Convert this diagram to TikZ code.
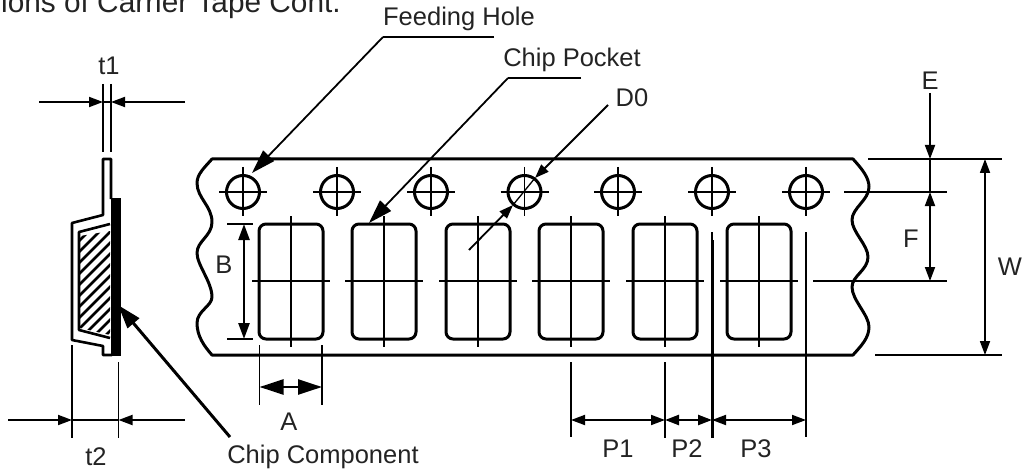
\documentclass[tikz,border=0pt]{standalone}
\usepackage{fontspec}
\setmainfont{Liberation Sans}
\usetikzlibrary{arrows.meta, calc}
\definecolor{inkdark}{RGB}{35, 35, 35}
\tikzstyle{dimlabel} = [inner sep=0pt, text=inkdark, font=\fontsize{25.5}{28}\selectfont]
\tikzstyle{outline} = [line width=3pt, black, line join=round]
\tikzstyle{thin line} = [line width=1.3pt, black]
\tikzstyle{extline} = [line width=1.8pt, black]
\tikzstyle{hole} = [circle, draw, line width=3pt, minimum size=33pt, inner sep=0pt]
\tikzstyle{pocket} = [rectangle, rounded corners=7pt, draw, line width=3pt, minimum width=64pt, minimum height=115pt, inner sep=0pt]
\tikzstyle{dimarrow} = [line width=1.8pt, -{Stealth[length=14pt, width=10pt, inset=0pt]}]
\tikzstyle{dimboth} = [line width=1.8pt, {Stealth[length=14pt, width=10pt, inset=0pt]}-{Stealth[length=14pt, width=10pt, inset=0pt]}]
\tikzstyle{bigarrow} = [line width=2.5pt, -{Stealth[length=24pt, width=15pt, inset=0pt]}]

\begin{document}
\begin{tikzpicture}[x=1pt, y=-1pt]
    \useasboundingbox (0,0) rectangle (1023,476);

    % Title and labels
    \node[dimlabel, anchor=base west, font=\fontsize{29.8}{32}\selectfont] (title) at (1, 13) {ions of Carrier Tape Cont.};
    \node[dimlabel] (feedlabel) at (459, 19) {Feeding Hole};
    \node[dimlabel] (pocketlabel) at (572, 60) {Chip Pocket};
    \node[dimlabel] (d0label) at (632, 98) {D0};
    \node[dimlabel] (chiplabel) at (323, 457) {Chip Component};
    \node[dimlabel] (t1label) at (109, 66) {t1};
    \node[dimlabel] (t2label) at (96, 457) {t2};
    \node[dimlabel] (blabel) at (224, 265) {B};
    \node[dimlabel] (alabel) at (289, 422) {A};
    \node[dimlabel] (p1label) at (618, 449) {P1};
    \node[dimlabel] (p2label) at (687, 449) {P2};
    \node[dimlabel] (p3label) at (756, 449) {P3};
    \node[dimlabel] (elabel) at (930, 81) {E};
    \node[dimlabel] (flabel) at (911, 239) {F};
    \node[dimlabel] (wlabel) at (1010, 267) {W};

    % Tape edge
    \draw[outline] (212,159) -- (853,159)
        .. controls (863,170) and (869,178) .. (869,187)
        .. controls (869,200) and (852,208) .. (852,220)
        .. controls (852,232) and (868,245) .. (868,257)
        .. controls (868,270) and (852,276) .. (852,287)
        .. controls (852,300) and (869,315) .. (869,327)
        .. controls (869,338) and (861,346) .. (853,355)
        -- (212,355)
        .. controls (204,346) and (197,336) .. (197,323)
        .. controls (197,311) and (212,306) .. (212,297)
        .. controls (212,282) and (197,265) .. (197,253)
        .. controls (197,241) and (212,236) .. (212,222)
        .. controls (212,206) and (197,198) .. (197,183)
        .. controls (197,174) and (205,167) .. (212,159) -- cycle;

    % Holes and pockets
    \foreach \i/\hx in {1/243, 2/337, 3/431, 4/524.5, 5/618, 6/712, 7/806} {
        \node[hole] (h\i) at (\hx, 192) {};
        \draw[thin line] (\hx-24, 192) -- (\hx+24, 192) (\hx, 167) -- (\hx, 216);
    }
    \foreach \i/\px in {1/291, 2/384, 3/478, 4/571, 5/665, 6/759} {
        \node[pocket] (c\i) at (\px, 281.5) {};
        \draw[thin line] (\px-39, 281) -- (\px+39, 281) (\px, 216) -- (\px, 347);
    }

    % Leaders
    \coordinate (feedknee) at (383, 37);
    \coordinate (feedend) at (494, 37);
    \coordinate (feedtip) at (252, 173);
    \draw[thin line] (feedend) -- (feedknee);
    \draw[bigarrow, line width=1.8pt] (feedknee) -- (feedtip);
    \coordinate (pocketknee) at (508, 78);
    \coordinate (pocketend) at (581, 78);
    \coordinate (pockettip) at (369, 223);
    \draw[thin line] (pocketend) -- (pocketknee);
    \draw[bigarrow, line width=1.8pt] (pocketknee) -- (pockettip);
    \coordinate (d0start) at (608, 105);
    \coordinate (d0tip) at (535, 178);
    \coordinate (d0back) at (469, 250);
    \coordinate (d0tipb) at (513, 205);
    \draw[dimarrow] (d0start) -- (d0tip);
    \draw[dimarrow] (d0back) -- (d0tipb);
    \draw[thin line] (d0tip) -- (d0tipb);

    % Side view
    \fill[black] (110.5,198) rectangle (120.5,356);
    \draw[outline, line width=2.6pt] (111,199) -- (111,159) -- (103,159) -- (103,215) -- (72,223)
        -- (72,340) -- (103,346) -- (103,355) -- (112,355);
    \begin{scope}
        \clip (80,236) -- (110,231) -- (110,335) -- (80,328) -- cycle;
        \foreach \k in {0,...,14} {
            \draw[line width=2.6pt] (70, 250+\k*11) -- (120, 200+\k*11);
        }
    \end{scope}
    \draw[outline, line width=2.6pt] (110,224) -- (79,232) -- (79,330) -- (110,338);
    \coordinate (chiptip) at (118, 305);
    \coordinate (chipstart) at (230, 437);
    \draw[bigarrow, line width=3pt] (chipstart) -- (chiptip);

    % t1
    \draw[extline] (103,84) -- (103,152) (111,84) -- (111,152);
    \draw[dimarrow] (39,102) -- (103,102);
    \draw[dimarrow] (185,102) -- (111,102);
    \draw[extline] (103,102) -- (111,102);

    % t2
    \draw[extline] (72,345) -- (72,438) (118.5,362) -- (118.5,438);
    \draw[dimarrow] (8,420) -- (72,420);
    \draw[dimarrow] (185,420) -- (118.5,420);
    \draw[extline] (72,420) -- (118.5,420);

    % B and A
    \draw[extline] (227,224) -- (253,224) (227,339) -- (253,339);
    \draw[line width=2.5pt, {Stealth[length=16pt, width=11pt, inset=0pt]}-{Stealth[length=16pt, width=11pt, inset=0pt]}] (244,224) -- (244,339);
    \draw[extline] (259.5,345) -- (259.5,405) (322,345) -- (322,405);
    \draw[line width=2.5pt, {Stealth[length=24pt, width=15pt, inset=0pt]}-{Stealth[length=24pt, width=15pt, inset=0pt]}] (259.5,387) -- (322,387);

    % P1 P2 P3
    \draw[extline] (571,362) -- (571,437) (665,362) -- (665,438) (806,232) -- (806,437);
    \draw[extline] (712,232) -- (712,240);
    \draw[line width=3pt] (712,240) -- (712,438);
    \draw[dimboth] (571,420) -- (665,420);
    \draw[dimboth, line width=2.4pt] (665,420) -- (712,420);
    \draw[dimboth] (712,420) -- (806,420);

    % E F W
    \draw[extline] (868,159) -- (1002,159) (844,192) -- (947,192) (813,281) -- (947,281) (875,355) -- (1002,355);
    \draw[dimarrow] (930,93) -- (930,159);
    \draw[extline] (930,159) -- (930,192);
    \draw[dimboth] (930,192) -- (930,281);
    \draw[dimboth] (985,159) -- (985,355);
\end{tikzpicture}
\end{document}
